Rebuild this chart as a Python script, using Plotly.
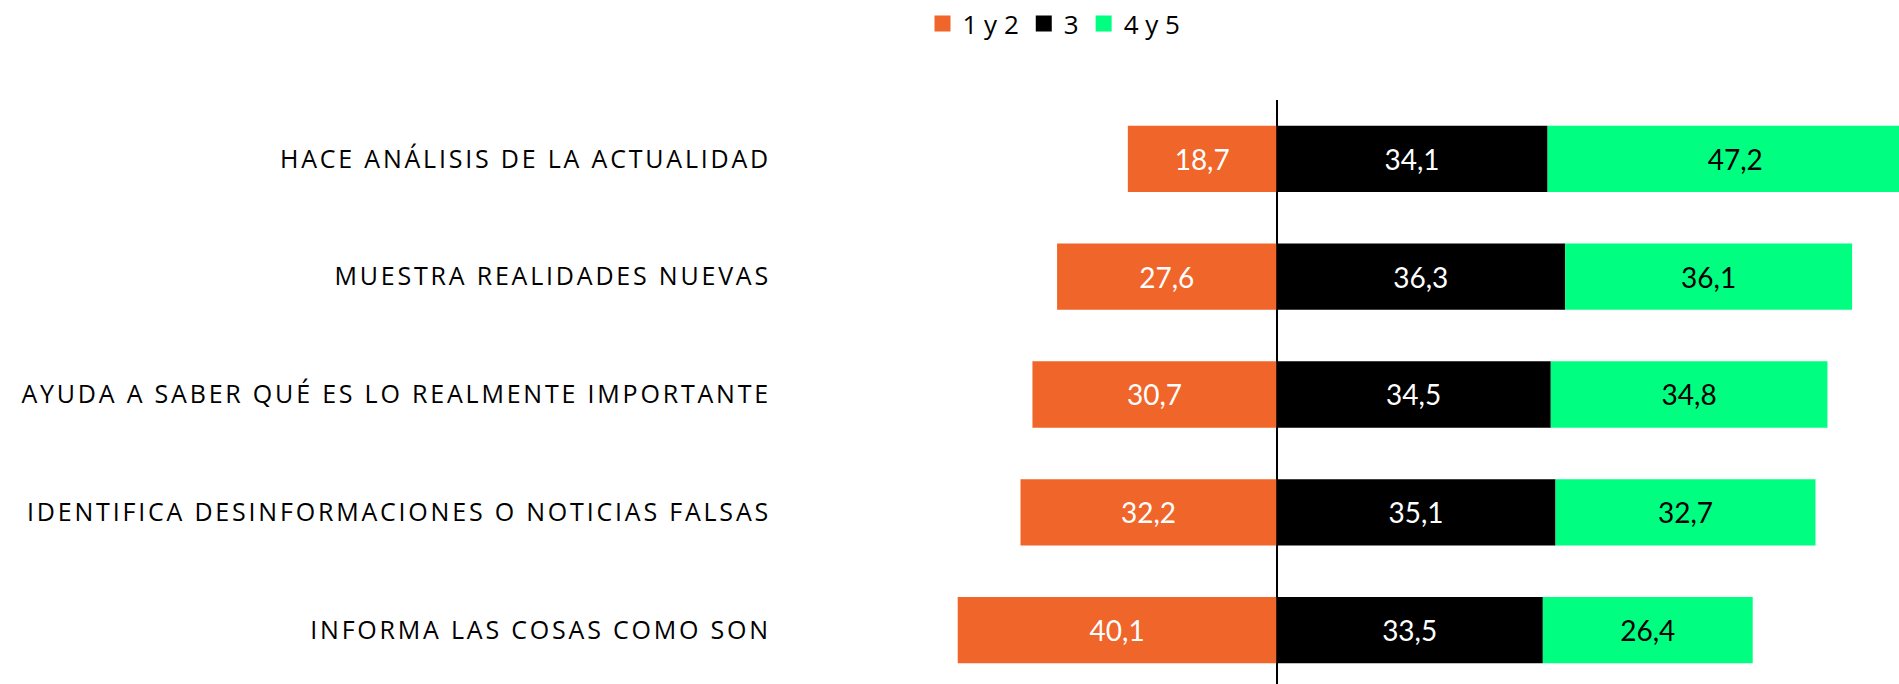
import plotly.graph_objects as go

categories = [
    "HACE ANÁLISIS DE LA ACTUALIDAD",
    "MUESTRA REALIDADES NUEVAS",
    "AYUDA A SABER QUÉ ES LO REALMENTE IMPORTANTE",
    "IDENTIFICA DESINFORMACIONES O NOTICIAS FALSAS",
    "INFORMA LAS COSAS COMO SON",
]
series_names = ["1 y 2", "3", "4 y 5"]
vals_12 = [18.7, 27.6, 30.7, 32.2, 40.1]
vals_3 = [34.1, 36.3, 34.5, 35.1, 33.5]
vals_45 = [47.2, 36.1, 34.8, 32.7, 26.4]

ORANGE = "#F0652A"
BLACK = "#000000"
GREEN = "#00FF80"


def fmt(v):
    return f"{v:.1f}".replace(".", ",")


W, H = 1899, 684
L_MARGIN = 778
T_MARGIN = 98
ZERO_PX = 1276.5
PX_PER_UNIT = 7.95
ROW_PX = 118.2

x_min = -(ZERO_PX - L_MARGIN) / PX_PER_UNIT
x_max = (W - ZERO_PX) / PX_PER_UNIT
plot_h = H - T_MARGIN
y_bottom = -0.5 + plot_h / ROW_PX

fig = go.Figure()

specs = [
    (series_names[0], [-v for v in vals_12], vals_12, ORANGE, "white"),
    (series_names[1], vals_3, vals_3, BLACK, "white"),
    (series_names[2], vals_45, vals_45, GREEN, "black"),
]
for name, xs, raw, col, tcol in specs:
    fig.add_trace(go.Bar(
        y=categories, x=xs, orientation="h", name=name,
        marker=dict(color=col, line=dict(width=0)),
        text=[fmt(v) for v in raw], textposition="inside",
        insidetextanchor="middle",
        textfont=dict(family="Lato", size=28, color=tcol),
        showlegend=False, legendgroup=name, hoverinfo="skip",
        constraintext="none",
    ))
    fig.add_trace(go.Scatter(
        x=[None], y=[None], mode="markers", name=name, legendgroup=name,
        marker=dict(symbol="square", size=18, color=col),
        showlegend=True,
    ))

fig.update_layout(
    width=W, height=H,
    barmode="relative", bargap=0.437,
    plot_bgcolor="white", paper_bgcolor="white",
    margin=dict(l=L_MARGIN, r=0, t=T_MARGIN, b=0, pad=0),
    showlegend=True,
    legend=dict(
        orientation="h", x=(1054 - L_MARGIN) / (W - L_MARGIN), xanchor="center",
        y=1 + (T_MARGIN - 21) / plot_h, yanchor="middle",
        font=dict(family="Open Sans", size=26, color="#000000"),
        itemsizing="trace", traceorder="normal",
    ),
    uniformtext=dict(minsize=28, mode="show"),
)
fig.update_xaxes(
    range=[x_min, x_max], showgrid=False, showticklabels=False, ticks="",
    zeroline=True, zerolinecolor="#000000", zerolinewidth=1.5, showline=False,
)
fig.update_yaxes(
    categoryorder="array", categoryarray=categories,
    range=[y_bottom, -0.5], showgrid=False, ticks="", showline=False,
    tickfont=dict(family="Open Sans", size=25, color="#000000"),
    ticklabelstandoff=6,
    zeroline=False,
)

post = (
    "document.body.style.margin='0';"
    "document.querySelectorAll('.ytick text').forEach(function(t){"
    "t.style.letterSpacing='2.8px';});"
)
fig.write_html("out.html", post_script=post, config={"displayModeBar": False})
